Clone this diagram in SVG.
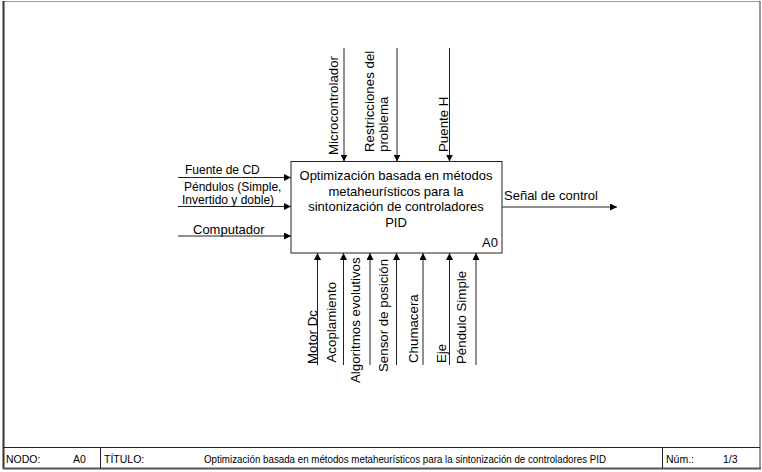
<svg xmlns="http://www.w3.org/2000/svg" width="762" height="472" viewBox="0 0 762 472">
<style>
.t{font-family:"Liberation Sans",Arial,sans-serif;fill:#000}
.l12{font-size:12px}
.l125{font-size:13.3px}
.l13{font-size:13px}
.ft{font-family:"Liberation Sans Narrow","Liberation Sans",Arial,sans-serif;font-size:10.5px;fill:#000}
.c{stroke:#222;stroke-width:1;fill:none}
</style>
<defs>
<marker id="ah" viewBox="0 0 10 10" refX="10" refY="5" markerWidth="7" markerHeight="7" markerUnits="userSpaceOnUse" orient="auto">
<path d="M0,0 L10,5 L0,10 z" fill="#000"/>
</marker>
</defs>
<rect x="0" y="0" width="762" height="472" fill="#fff"/>
<g id="frame">
<line x1="3" y1="1.5" x2="760" y2="1.5" stroke="#999" stroke-width="1"/>
<line x1="3.5" y1="1" x2="3.5" y2="469" stroke="#333" stroke-width="2"/>
<line x1="760" y1="1" x2="760" y2="469" stroke="#333" stroke-width="1"/>
<line x1="3" y1="468.5" x2="761" y2="468.5" stroke="#555" stroke-width="2"/>
<line x1="3" y1="447.5" x2="760" y2="447.5" stroke="#222" stroke-width="1"/>
<line x1="100.5" y1="447.5" x2="100.5" y2="468" stroke="#222" stroke-width="1"/>
<line x1="662.5" y1="447.5" x2="662.5" y2="468" stroke="#222" stroke-width="1"/>
<text class="ft" x="6" y="462.5">NODO:</text>
<text class="ft" x="73" y="462.5">A0</text>
<text class="ft" x="104" y="462.5">TÍTULO:</text>
<text class="ft" x="204" y="462.5" textLength="402" lengthAdjust="spacingAndGlyphs">Optimización basada en métodos metaheurísticos para la sintonización de controladores PID</text>
<text class="ft" x="666" y="462.5">Núm.:</text>
<text class="ft" x="723" y="462.5">1/3</text>
</g>
<g id="connectors">
<line class="c" x1="344" y1="48" x2="344" y2="161.5" marker-end="url(#ah)"/>
<line class="c" x1="397" y1="48" x2="397" y2="161.5" marker-end="url(#ah)"/>
<line class="c" x1="449.5" y1="48" x2="449.5" y2="161.5" marker-end="url(#ah)"/>
<line class="c" x1="178" y1="177.5" x2="291" y2="177.5" marker-end="url(#ah)"/>
<line class="c" x1="178" y1="206.5" x2="291" y2="206.5" marker-end="url(#ah)"/>
<line class="c" x1="178" y1="236" x2="291" y2="236" marker-end="url(#ah)"/>
<line class="c" x1="502" y1="207" x2="617" y2="207" marker-end="url(#ah)"/>
<line class="c" x1="317.5" y1="365" x2="317.5" y2="253" marker-end="url(#ah)"/>
<line class="c" x1="343.5" y1="365" x2="343.5" y2="253" marker-end="url(#ah)"/>
<line class="c" x1="370" y1="365" x2="370" y2="253" marker-end="url(#ah)"/>
<line class="c" x1="396.5" y1="365" x2="396.5" y2="253" marker-end="url(#ah)"/>
<line class="c" x1="423" y1="365" x2="423" y2="253" marker-end="url(#ah)"/>
<line class="c" x1="449.5" y1="365" x2="449.5" y2="253" marker-end="url(#ah)"/>
<line class="c" x1="476" y1="365" x2="476" y2="253" marker-end="url(#ah)"/>
</g>
<g id="labels">
<text class="t l125" transform="translate(338,155) rotate(-90)">Microcontrolador</text>
<text class="t l125" transform="translate(374,152) rotate(-90)">Restricciones del</text>
<text class="t l125" transform="translate(388,152) rotate(-90)">problema</text>
<text class="t l125" transform="translate(448,152) rotate(-90)">Puente H</text>
<text class="t l12" x="185" y="173.5">Fuente de CD</text>
<text class="t l12" x="184" y="191">Péndulos (Simple,</text>
<text class="t l12" x="182" y="203.5">Invertido y doble)</text>
<text class="t l13" x="193" y="234">Computador</text>
<text class="t l13" x="504" y="200">Señal de control</text>
<text class="t l125" transform="translate(316.5,364) rotate(-90)">Motor Dc</text>
<text class="t l125" transform="translate(335.5,362.5) rotate(-90)">Acoplamiento</text>
<text class="t l125" transform="translate(359.5,383) rotate(-90)">Algoritmos evolutivos</text>
<text class="t l125" transform="translate(388,372) rotate(-90)">Sensor de posición</text>
<text class="t l125" transform="translate(418,363) rotate(-90)">Chumacera</text>
<text class="t l125" transform="translate(446,363) rotate(-90)">Eje</text>
<text class="t l125" transform="translate(466,364) rotate(-90)">Péndulo Simple</text>
</g>
<g id="A0">
<rect x="291" y="161.5" width="211" height="91.5" fill="#fff" stroke="#222" stroke-width="1"/>
<text class="t l13" text-anchor="middle" x="396" y="180">Optimización basada en métodos</text>
<text class="t l13" text-anchor="middle" x="396" y="195.5">metaheurísticos para la</text>
<text class="t l13" text-anchor="middle" x="396" y="211">sintonización de controladores</text>
<text class="t l13" text-anchor="middle" x="396" y="226.5">PID</text>
<text class="t l13" x="482" y="246.5">A0</text>
</g>
</svg>
